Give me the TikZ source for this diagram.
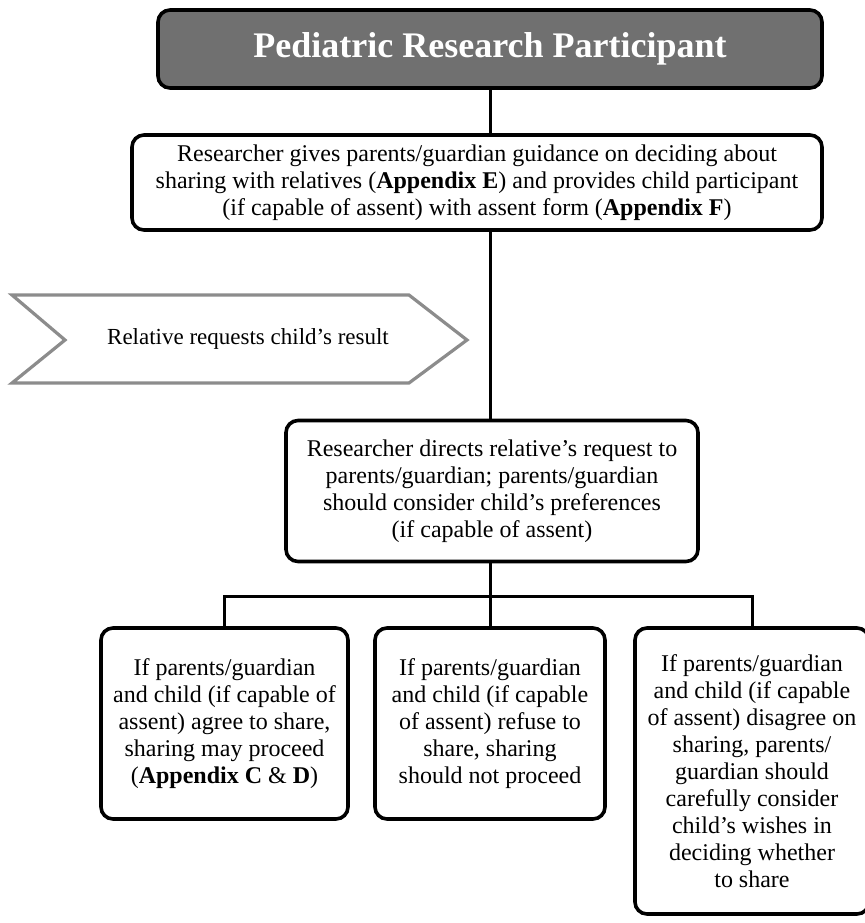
\documentclass[tikz,border=0pt]{standalone}
\usepackage{fontspec}
\setmainfont{Liberation Serif}
\definecolor{headgray}{HTML}{707070}
\definecolor{arrowgray}{HTML}{8C8C8C}
\tikzset{
  box/.style={draw=black, line width=1.8pt, rounded corners=6pt, fill=white,
    align=center, inner sep=2pt, font=\fontsize{12}{13.5}\selectfont},
  link/.style={line width=1.5pt}
}
\begin{document}
\begin{tikzpicture}[x=0.5pt, y=-0.5pt]
  \useasboundingbox (0,0) rectangle (864,923);

  \node [box, fill=headgray, minimum width=332pt, minimum height=39pt,
         text=white, font=\fontsize{18}{22}\selectfont\bfseries] (head) at (490,49)
         {Pediatric Research Participant};

  \node [box, minimum width=345pt, minimum height=47.5pt] (guide) at (477,182.5)
        {Researcher gives parents/guardian guidance on deciding about\\
         sharing with relatives (\textbf{Appendix E}) and provides child participant\\
         (if capable of assent) with assent form (\textbf{Appendix F})};

  % relative's request
  \draw [arrowgray, line width=1.6pt, fill=white, line join=miter]
        (12,295) -- (409,295) -- (467,340) -- (409,383) -- (12,383) -- (65,340) -- cycle;
  \node [font=\fontsize{11.5}{13.5}\selectfont] (request) at (248,339) {Relative requests child’s result};

  \node [box, minimum width=206pt, minimum height=70.5pt] (direct) at (492,491)
        {Researcher directs relative’s request to\\
         parents/guardian; parents/guardian\\
         should consider child’s preferences\\
         (if capable of assent)};

  \node [box, minimum width=123.5pt, minimum height=95.5pt] (agree) at (224.5,723.5)
        {If parents/guardian\\ and child (if capable of\\ assent) agree to share,\\
         sharing may proceed\\ (\textbf{Appendix C} \& \textbf{D})};
  \node [box, minimum width=115pt, minimum height=95.5pt] (refuse) at (490,723.5)
        {If parents/guardian\\ and child (if capable\\ of assent) refuse to\\
         share, sharing\\ should not proceed};
  \node [box, minimum width=117pt, minimum height=143pt] (mixed) at (752,771)
        {If parents/guardian\\ and child (if capable\\ of assent) disagree on\\
         sharing, parents/\\ guardian should\\ carefully consider\\
         child’s wishes in\\ deciding whether\\ to share};

  \coordinate (bus) at (refuse.north |- 0,596);

  \draw [link] (head.south) -- (head.south |- guide.north);
  \draw [link] (head.south |- guide.south) -- (head.south |- direct.north);
  \draw [link] (head.south |- direct.south) -- (bus);
  \draw [link] (agree.north) |- (bus) -| (mixed.north);
  \draw [link] (bus) -- (refuse);
\end{tikzpicture}
\end{document}
